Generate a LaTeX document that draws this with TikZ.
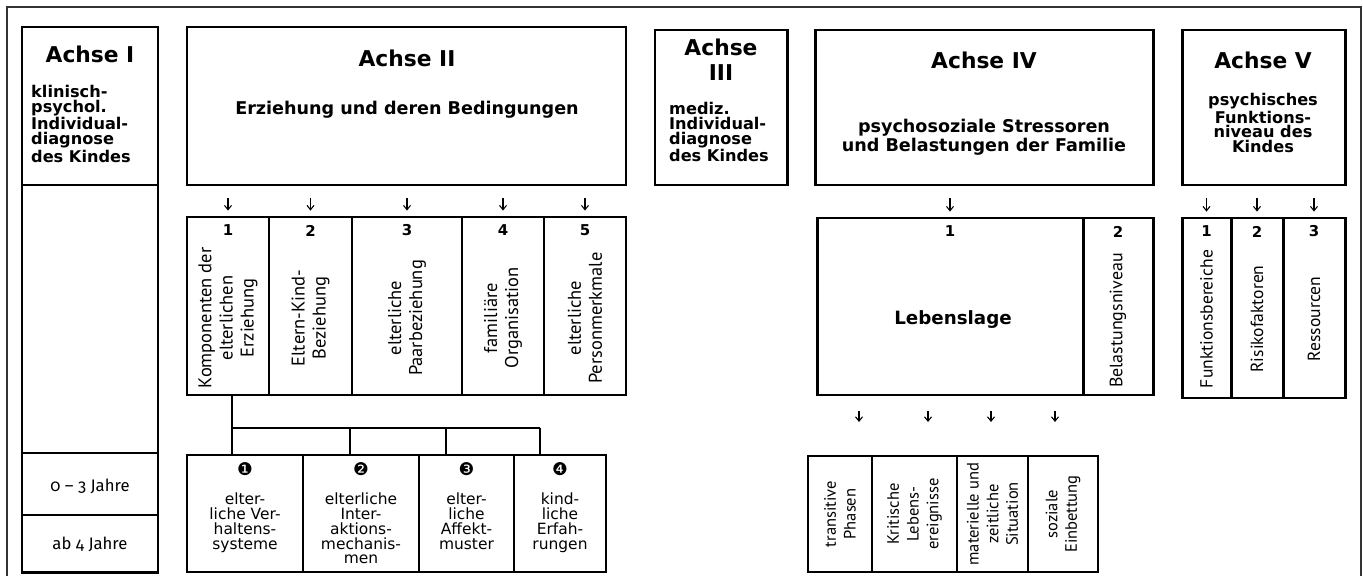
\documentclass[tikz,border=0pt]{standalone}
\usepackage{fontspec}
\setmainfont{DejaVu Sans}
\newfontfamily\narrowfont{PT Sans}
\newfontfamily\oldnum{Fira Sans}[Numbers=OldStyle]
\newfontfamily\symfont{DejaVu Sans}
\usepackage{tikz}
\usetikzlibrary{fit, calc, arrows.meta}

\tikzset{
  thickbox/.style={draw, line width=1.7pt, inner sep=0pt},
  midbox/.style={draw, line width=1.1pt, inner sep=0pt},
  thinbox/.style={draw, line width=0.8pt, inner sep=0pt},
  head/.style={font=\fontsize{12.4}{14}\selectfont\bfseries, align=center},
  sub/.style={font=\fontsize{10}{10.8}\selectfont\bfseries, align=center},
  small/.style={font=\fontsize{9.2}{8.4}\selectfont\bfseries},
  num/.style={font=\fontsize{8.5}{9}\selectfont\bfseries},
  dingnum/.style={font=\symfont\fontsize{10}{11}\selectfont},
  rot/.style={rotate=90, align=center, font=\narrowfont\fontsize{10.5}{12}\selectfont},
  rotsmall/.style={rotate=90, align=center, font=\narrowfont\fontsize{9.4}{11.2}\selectfont},
  cell/.style={align=center, font=\fontsize{8.8}{8.5}\selectfont},
  age/.style={font=\oldnum\fontsize{9.5}{10}\selectfont},
  arr/.style={-{Straight Barb[length=2.5pt,width=4pt]}, line width=0.6pt,
    shorten <=6.8pt, shorten >=2.8pt},
  arrlow/.style={arr, shorten <=8.5pt, shorten >=18.8pt}
}

\begin{document}
\begin{tikzpicture}[x=0.02cm, y=-0.02cm]
    \useasboundingbox (0,0) rectangle (1363,575);
    % Draw the outer frame
    \draw[line width=0.7pt, black!80] (7,7) rectangle (1361,590);

    % Achse I
    \node[thickbox, fit={(22,27) (158,572)}] (ax1) {};
    \coordinate (r1) at (0,185);
    \coordinate (r2) at (0,453);
    \coordinate (r3) at (0,515);
    \draw[line width=1.1pt] (ax1.west |- r1) -- (ax1.east |- r1);
    \draw[line width=0.6pt] (ax1.west |- r2) -- (ax1.east |- r2);
    \draw[line width=0.6pt] (ax1.west |- r3) -- (ax1.east |- r3);
    \node[head] (ax1h) at (90,54) {Achse I};
    \node[small, anchor=north west, align=left] (ax1t) at (25,79)
      {klinisch-\\psychol.\\Individual-\\diagnose\\des Kindes};
    \node[age] (age1) at (90,486) {0 – 3 Jahre};
    \node[age] (age2) at (90,544) {ab 4 Jahre};

    % Achse II
    \node[thickbox, fit={(187,27) (626,185)}] (ax2) {};
    \node[head] (ax2h) at (407,58) {Achse II};
    \node[sub] (ax2t) at (407,110) {Erziehung und deren Bedingungen};
    \foreach \n/\l/\r in {1/187/269, 2/269/352, 3/352/462, 4/462/544, 5/544/626} {
      \node[thickbox, fit={(\l,217) (\r,395)}] (b\n) {};
      \node[num] (bn\n) at ($(b\n.north)+(0,15)$) {\n};
      \draw[arr] (ax2.south -| b\n.north) -- (b\n.north);
    }
    \node[rot] (bt1) at ($(b1.center)+(0,12)$) {Komponenten der\\elterlichen\\Erziehung};
    \node[rot] (bt2) at ($(b2.center)+(0,12)$) {Eltern-Kind-\\Beziehung};
    \node[rot] (bt3) at ($(b3.center)+(0,12)$) {elterliche\\Paarbeziehung};
    \node[rot] (bt4) at ($(b4.center)+(0,12)$) {familiäre\\Organisation};
    \node[rot] (bt5) at ($(b5.center)+(0,12)$) {elterliche\\Personmerkmale};

    % Components of Erziehung
    \foreach \n/\l/\r in {1/187/303, 2/303/419, 3/419/514, 4/514/606}
      \node[thinbox, fit={(\l,455) (\r,572)}] (s\n) {};
    \node[dingnum] (sn1) at ($(s1.north)+(0,15)$) {❶};
    \node[dingnum] (sn2) at ($(s2.north)+(0,15)$) {❷};
    \node[dingnum] (sn3) at ($(s3.north)+(0,15)$) {❸};
    \node[dingnum] (sn4) at ($(s4.north)+(0,15)$) {❹};
    \node[cell, anchor=north] (st1) at ($(s1.north)+(0,32)$) {elter-\\liche Ver-\\haltens-\\systeme};
    \node[cell, anchor=north] (st2) at ($(s2.north)+(0,32)$) {elterliche\\Inter-\\aktions-\\mechanis-\\men};
    \node[cell, anchor=north] (st3) at ($(s3.north)+(0,32)$) {elter-\\liche\\Affekt-\\muster};
    \node[cell, anchor=north] (st4) at ($(s4.north)+(0,32)$) {kind-\\liche\\Erfah-\\rungen};

    % Add the tree from box 1
    \coordinate (k1) at (232,428);
    \coordinate (k2) at (350,428);
    \coordinate (k3) at (446,428);
    \coordinate (k4) at (540,428);
    \draw[line width=0.7pt] (b1.south -| k1) -- (s1.north -| k1);
    \draw[line width=0.7pt] (k1) -- (k4);
    \foreach \n in {2,3,4}
      \draw[line width=0.7pt] (k\n) -- (s\n.north -| k\n);

    % Achse III
    \node[thickbox, fit={(655,30) (787,185)}] (ax3) {};
    \node[head, font=\fontsize{12.4}{14.2}\selectfont\bfseries] (ax3h) at (721,60) {Achse\\III};
    \node[small, anchor=north west, align=left] (ax3t) at (663,96)
      {mediz.\\Individual-\\diagnose\\des Kindes};

    % Achse IV
    \node[thickbox, fit={(815,30) (1153,185)}] (ax4) {};
    \node[head] (ax4h) at (984,60) {Achse IV};
    \node[sub] (ax4t) at (984,137) {psychosoziale Stressoren\\und Belastungen der Familie};
    \node[thickbox, fit={(817,218) (1083,395)}] (c1) {};
    \node[thickbox, fit={(1083,218) (1153,395)}] (c2) {};
    \node[num] (cn1) at ($(c1.north)+(0,15)$) {1};
    \node[num] (cn2) at ($(c2.north)+(0,15)$) {2};
    \node[font=\fontsize{10.4}{11}\selectfont\bfseries] (leb) at (953,320) {Lebenslage};
    \node[rot, font=\narrowfont\fontsize{10.2}{12}\selectfont] (ct2) at ($(c2.center)+(0,14)$) {Belastungsniveau};
    \draw[arr] (ax4.south -| c1.north) -- (c1.north);

    % Lebenslage parts
    \foreach \n/\l/\r in {1/808/872, 2/872/957, 3/957/1028, 4/1028/1098}
      \node[midbox, fit={(\l,456) (\r,572)}] (d\n) {};
    \node[rotsmall] (dt1) at (d1.center) {transitive\\Phasen};
    \node[rotsmall] (dt2) at (d2.center) {Kritische\\Lebens-\\ereignisse};
    \node[rotsmall] (dt3) at (d3.center) {materielle und\\zeitliche\\Situation};
    \node[rotsmall] (dt4) at (d4.center) {soziale\\Einbettung};
    \foreach \n/\x in {1/859, 2/928, 3/991, 4/1055} {
      \coordinate (q\n) at (\x,0);
      \draw[arrlow] (c1.south -| q\n) -- (d\n.north -| q\n);
    }

    % Achse V
    \node[thickbox, fit={(1182,30) (1345,185)}] (ax5) {};
    \node[head] (ax5h) at (1263,60) {Achse V};
    \node[small, align=center] (ax5t) at (1263,123) {psychisches\\Funktions-\\niveau des\\Kindes};
    \foreach \n/\l/\r in {1/1182/1231, 2/1231/1283, 3/1283/1345} {
      \node[thickbox, fit={(\l,218) (\r,398)}] (e\n) {};
      \node[num] (en\n) at ($(e\n.north)+(0,15)$) {\n};
      \draw[arr] (ax5.south -| e\n.north) -- (e\n.north);
    }
    \node[rot, font=\narrowfont\fontsize{10}{12}\selectfont] (et1) at ($(e1.center)+(0,11)$) {Funktionsbereiche};
    \node[rot, font=\narrowfont\fontsize{10}{12}\selectfont] (et2) at ($(e2.center)+(0,11)$) {Risikofaktoren};
    \node[rot, font=\narrowfont\fontsize{10}{12}\selectfont] (et3) at ($(e3.center)+(0,11)$) {Ressourcen};
\end{tikzpicture}
\end{document}
